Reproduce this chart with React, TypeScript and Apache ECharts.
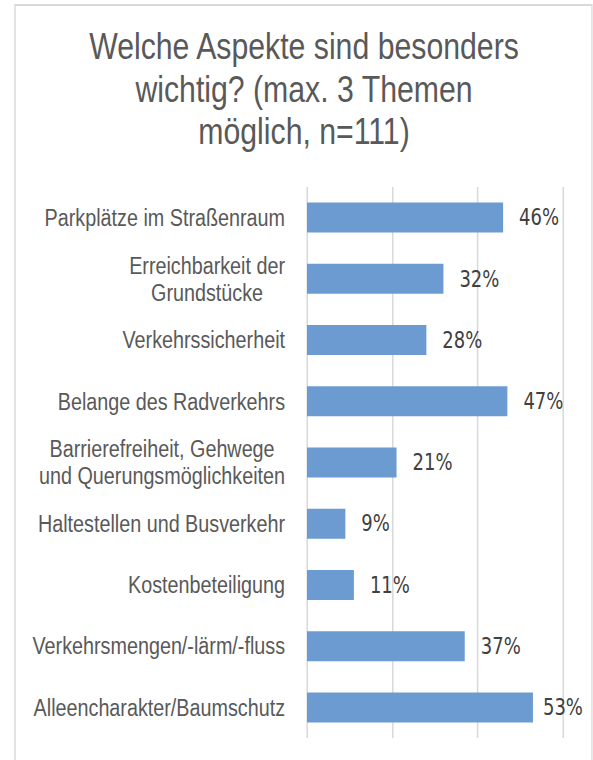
import React, { useEffect, useRef } from "react";
import * as echarts from "echarts";

const categories = [
  "Parkplätze im Straßenraum",
  "Erreichbarkeit der\nGrundstücke",
  "Verkehrssicherheit",
  "Belange des Radverkehrs",
  "Barrierefreiheit, Gehwege\nund Querungsmöglichkeiten",
  "Haltestellen und Busverkehr",
  "Kostenbeteiligung",
  "Verkehrsmengen/-lärm/-fluss",
  "Alleencharakter/Baumschutz",
];
const values = [46, 32, 28, 47, 21, 9, 11, 37, 53];
const titleLines = ["Welche Aspekte sind besonders", "wichtig? (max. 3 Themen", "möglich, n=111)"];
const axisMax = 60;
const axisInterval = 20;

// The reference text is horizontally condensed; render wider and squeeze the whole chart.
const SX = 0.8;
const W = 593 / SX;
const H = 760;
const px = (x: number) => x / SX;

const SANS = "'Liberation Sans', Arial, sans-serif";

export default function App() {
  const ref = useRef<HTMLDivElement>(null);
  useEffect(() => {
    if (!ref.current) return;
    const chart = echarts.init(ref.current, null, { renderer: "svg" });
    chart.setOption({
      animation: false,
      backgroundColor: "#ffffff",
      graphic: [
        {
          type: "rect",
          shape: { x: px(15), y: 5, width: px(577), height: 800 },
          style: { fill: "none", stroke: "#d9d9d9", lineWidth: 1.8 },
          silent: true,
        },
        {
          type: "text",
          x: px(304),
          y: 25,
          style: {
            text: titleLines.join("\n"),
            fill: "#595959",
            fontSize: 37.8,
            fontFamily: SANS,
            lineHeight: 42.5,
            align: "center",
            verticalAlign: "top",
          },
        },
      ],
      grid: {
        left: px(307),
        right: px(30),
        top: 187,
        bottom: 22,
        containLabel: false,
        outerBoundsMode: "none",
      },
      xAxis: {
        type: "value",
        min: 0,
        max: axisMax,
        interval: axisInterval,
        axisLabel: { show: false },
        axisLine: { show: false },
        axisTick: { show: false },
        splitLine: { show: true, lineStyle: { color: "#d9d9d9", width: 1.9 } },
      },
      yAxis: {
        type: "category",
        data: categories,
        inverse: true,
        axisLine: { show: false },
        axisTick: { show: false },
        axisLabel: {
          margin: px(22),
          formatter: (v: string) => `{c|${v.split("\n").join("}\n{c|")}}`,
          rich: {
            c: {
              align: "center",
              fontSize: 24.7,
              lineHeight: 27,
              fontFamily: SANS,
              color: "#595959",
            },
          },
        },
      },
      series: [
        {
          type: "bar",
          data: values.map((v, i) =>
            i === values.length - 1 ? { value: v, label: { distance: px(10) } } : v
          ),
          barCategoryGap: "51%",
          itemStyle: { color: "#6c9bd2" },
          label: {
            show: true,
            position: "right",
            distance: px(16),
            formatter: "{c}%",
            fontSize: 22.5,
            fontFamily: "'DejaVu Sans', sans-serif",
            color: "#404040",
          },
        },
      ],
    });
    return () => chart.dispose();
  }, []);
  return (
    <div
      ref={ref}
      style={{
        position: "absolute",
        left: 0,
        top: 0,
        width: W,
        height: H,
        transform: `scaleX(${SX})`,
        transformOrigin: "0 0",
      }}
    />
  );
}
